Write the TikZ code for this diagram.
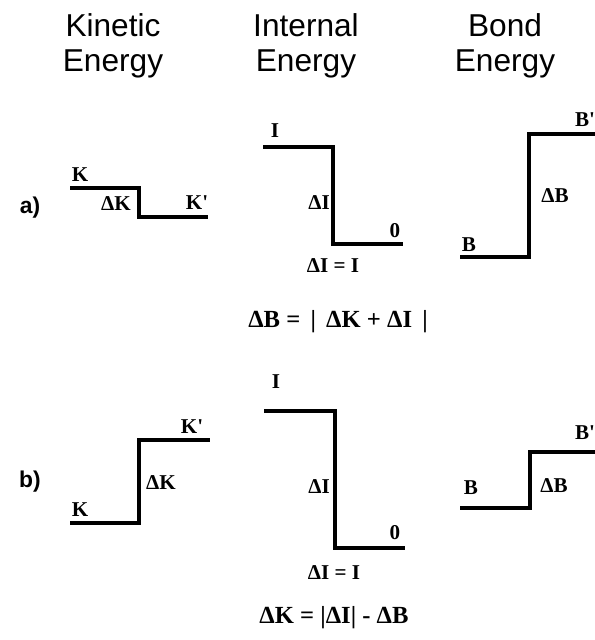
\documentclass[tikz,border=0pt]{standalone}
\usepackage{fontspec}
\setmainfont{Liberation Serif}
\newfontfamily\headfont{Liberation Sans}

\begin{document}
\begin{tikzpicture}[x=0.03cm,y=-0.03cm,line cap=butt,line join=miter,
    level/.style={line width=3pt},
    head/.style={font=\headfont\fontsize{27}{30}\selectfont,align=center},
    tag/.style={font=\headfont\bfseries\fontsize{19.5}{22}\selectfont},
    lab/.style={font=\bfseries\fontsize{18}{20}\selectfont,inner sep=0pt},
    eq/.style={font=\bfseries\fontsize{21}{24}\selectfont,inner sep=0pt}]
    \useasboundingbox (0,0) rectangle (595,640);

    % column heads
    \node[head] (hkin) at (113,46) {Kinetic\\Energy};
    \node[head] (hint) at (306,46) {Internal\\Energy};
    \node[head] (hbond) at (505,46) {Bond\\Energy};

    % case a)
    \node[tag] (taga) at (30,208) {a)};

    \draw[level] (70,188) -- (139,188) -- (139,217) -- (208,217);
    \node[lab] (ka) at (80,175) {K};
    \node[lab] (dka) at (116,204) {ΔK};
    \node[lab] (kpa) at (197,203) {K\textquotesingle};

    \draw[level] (263,147) -- (333,147) -- (333,244) -- (403,244);
    \node[lab] (ia) at (275,131) {I};
    \node[lab] (dia) at (319,203) {ΔI};
    \node[lab] (za) at (395,231) {0};
    \node[lab] (dieqa) at (333,266) {ΔI = I};

    \draw[level] (460,257) -- (529,257) -- (529,134) -- (598,134);
    \node[lab] (ba) at (469,245) {B};
    \node[lab] (dba) at (555,196) {ΔB};
    \node[lab] (bpa) at (585,120) {B\textquotesingle};

    \node[eq] (eqa) at (338,322) {ΔB = \,|\, ΔK + ΔI \,|};

    % case b)
    \node[tag] (tagb) at (30,482) {b)};

    \draw[level] (70,523) -- (139,523) -- (139,440) -- (210,440);
    \node[lab] (kb) at (80,510) {K};
    \node[lab] (dkb) at (161,483) {ΔK};
    \node[lab] (kpb) at (192,427) {K\textquotesingle};

    \draw[level] (264,411) -- (335,411) -- (335,548) -- (405,548);
    \node[lab] (ib) at (276,382) {I};
    \node[lab] (dib) at (319,487) {ΔI};
    \node[lab] (zb) at (395,533) {0};
    \node[lab] (dieqb) at (334,573) {ΔI = I};

    \draw[level] (460,508) -- (530,508) -- (530,452) -- (598,452);
    \node[lab] (bb) at (471,488) {B};
    \node[lab] (dbb) at (554,486) {ΔB};
    \node[lab] (bpb) at (585,433) {B\textquotesingle};

    \node[eq] (eqb) at (334,618) {ΔK = |ΔI| - ΔB};
\end{tikzpicture}
\end{document}
